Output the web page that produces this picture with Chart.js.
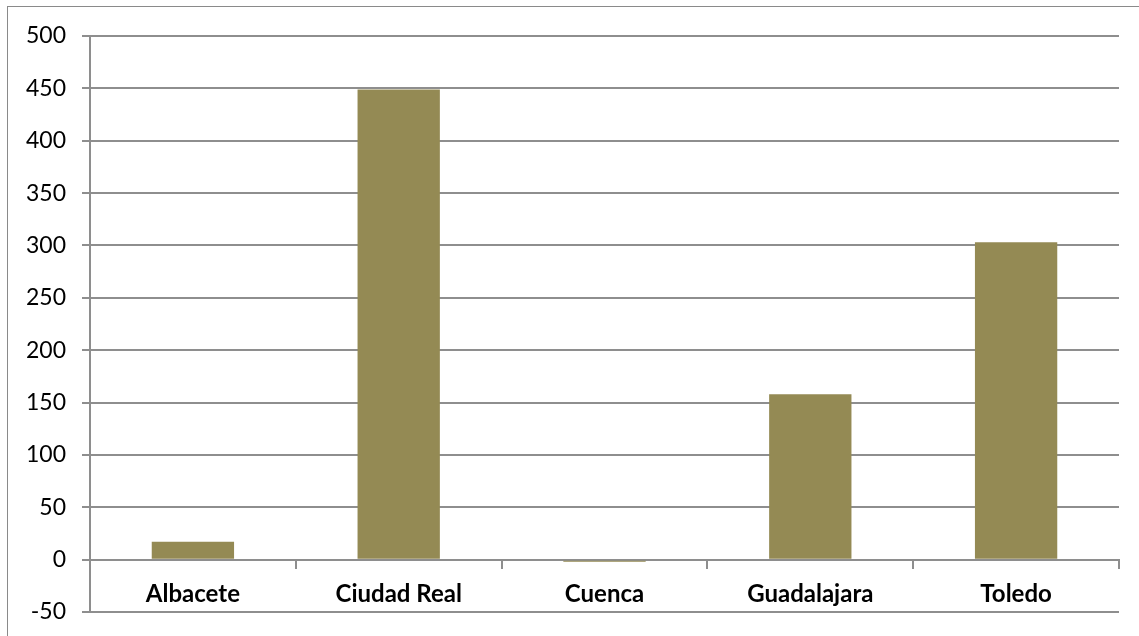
<!DOCTYPE html>
<html>
<head>
<meta charset="utf-8">
<script src="https://cdn.jsdelivr.net/npm/chart.js@4"></script>
<style>
  html, body { margin: 0; padding: 0; background: #fff; }
  #wrap { position: relative; width: 1139px; height: 636px; overflow: hidden; }
  #frame { position: absolute; left: 7px; top: 6px; width: 1200px; height: 700px;
           border-left: 1px solid #8a8a8a; border-top: 1px solid #8a8a8a; box-sizing: border-box; }
  canvas { position: absolute; left: 0; top: 0; }
</style>
</head>
<body>
<div id="wrap">
  <div id="frame"></div>
  <canvas id="c" width="1139" height="636"></canvas>
</div>
<script>
const categories = ["Albacete", "Ciudad Real", "Cuenca", "Guadalajara", "Toledo"];
const values = [17, 449, -2, 158, 303];
const yMin = -50, yMax = 500, yStep = 50;

const gridColor = '#8e8e8e';
const barColor = '#948A54';

new Chart(document.getElementById('c'), {
  type: 'bar',
  data: {
    labels: categories,
    datasets: [{
      data: values,
      backgroundColor: barColor,
      barPercentage: 0.4,
      categoryPercentage: 1.0
    }]
  },
  options: {
    responsive: false,
    animation: false,
    events: [],
    layout: { padding: { left: 0, right: 20, top: 36, bottom: 24 } },
    plugins: { legend: { display: false }, tooltip: { enabled: false } },
    scales: {
      y: {
        min: yMin, max: yMax,
        ticks: { stepSize: yStep, color: '#000', padding: 16,
                 font: { family: 'Lato', size: 23 } },
        grid: { color: gridColor, lineWidth: 2, tickLength: 8 },
        border: { color: gridColor, width: 2 },
        afterFit: (s) => { s.width = 90; s.paddingTop = 0; s.paddingBottom = 0; }
      },
      x: {
        position: { y: 0 },
        offset: true,
        ticks: { color: '#000', padding: 12,
                 font: { family: 'Lato', size: 24, weight: 'bold' } },
        grid: { drawOnChartArea: false, color: gridColor, lineWidth: 2, tickLength: 8, offset: true },
        border: { color: gridColor, width: 2 },
        afterFit: (s) => { s.height = 0; }
      }
    }
  }
});
</script>
</body>
</html>
